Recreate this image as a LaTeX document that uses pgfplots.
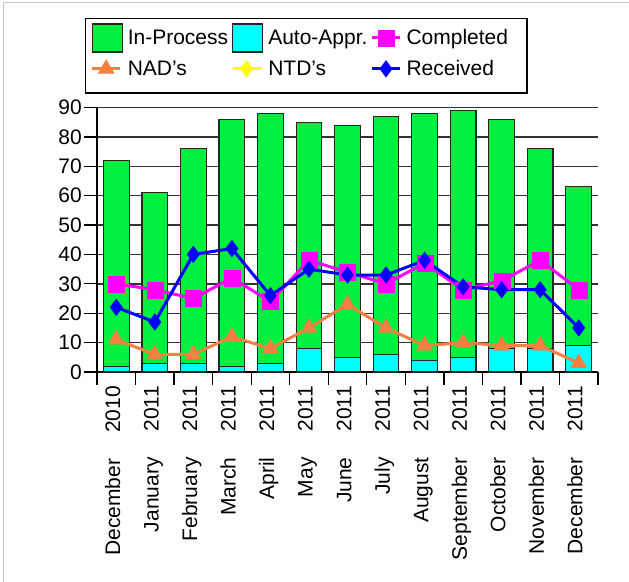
\documentclass[border=0pt]{standalone}
\usepackage{fontspec}
\setmainfont{Liberation Sans}
\usepackage{pgfplots}
\usepackage{pgfplotstable}
\pgfplotsset{compat=1.18}
\definecolor{cgreen}{RGB}{0,240,64}
\definecolor{ccyan}{RGB}{0,255,255}
\definecolor{cmag}{RGB}{255,0,255}
\definecolor{corange}{RGB}{245,128,66}
\definecolor{cblue}{RGB}{0,0,255}
\definecolor{cyellow}{RGB}{255,255,0}
\newcommand{\cf}{\fontsize{21bp}{25bp}\selectfont}
\newcommand{\lab}[2]{\makebox[105bp][r]{#1}\hspace{26bp}#2}
\pgfplotstableread{
i inproc auto completed nad received
0  70 2 30 11 22
1  58 3 28  6 17
2  73 3 25  6 40
3  84 2 32 12 42
4  85 3 24  8 26
5  77 8 38 15 35
6  79 5 34 23 33
7  81 6 30 15 33
8  84 4 37  9 38
9  84 5 28 10 29
10 78 8 31  9 28
11 68 8 38  9 28
12 54 9 28  3 15
}\datatable
\pgfplotsset{
  lineleg/.style={legend image code/.code={\draw[mark repeat=2,mark phase=2,##1] plot coordinates {(0bp,0bp) (14bp,0bp) (28bp,0bp)};}},
  lineleglow/.style={legend image code/.code={\path[draw=none,fill=none] (0bp,-19bp);\draw[mark repeat=2,mark phase=2,##1] plot coordinates {(0bp,0bp) (14bp,0bp) (28bp,0bp)};}},
  boxleg/.style={legend image code/.code={\draw[##1, line width=1.3bp] (0bp,-14bp) rectangle (30bp,14bp);}},
}
\begin{document}
\begin{tikzpicture}
\path[use as bounding box] (0,0) rectangle (629bp,582bp);
\draw[black!22, line width=1.5bp] (3.5bp,0bp) -- (3.5bp,579.5bp) -- (629bp,579.5bp);
\begin{axis}[
  at={(97bp,210bp)}, anchor=south west,
  scale only axis, width=501bp, height=264.5bp,
  xmin=-0.5, xmax=12.5, ymin=0, ymax=90,
  clip=false,
  axis x line*=bottom, axis y line*=left,
  axis line style={black, line width=1.3bp},
  ytick={0,10,...,90},
  ymajorgrids,
  major grid style={draw=black!80, line width=1.4bp},
  xtick={-0.5,0.5,...,12.5},
  x tick label as interval,
  xticklabels={\lab{December}{2010},\lab{January}{2011},\lab{February}{2011},\lab{March}{2011},\lab{April}{2011},\lab{May}{2011},\lab{June}{2011},\lab{July}{2011},\lab{August}{2011},\lab{September}{2011},\lab{October}{2011},\lab{November}{2011},\lab{December}{2011}},
  tick align=outside,
  major tick length=13bp,
  tick style={black, line width=1.3bp},
  /pgf/number format/assume math mode=true,
  yticklabel style={font=\cf, inner xsep=2bp},
  xticklabel style={font=\cf, rotate=90, anchor=east, text height=15bp, text depth=7.5bp, inner sep=1bp},
  legend columns=3,
  legend cell align=left,
  legend style={font=\cf, draw=black, line width=1.3bp, at={(0,1)}, anchor=south west, xshift=-12bp, yshift=14bp, inner xsep=5bp, inner ysep=5bp,
    /tikz/every even column/.append style={column sep=1bp},
    /tikz/every odd column/.append style={column sep=3bp},
    row sep=6bp},
]
\addplot[ybar, bar width=25.7bp, bar shift=0pt, fill=cgreen, draw=black!85, line width=1.1bp, boxleg]
  table[x=i, y expr=\thisrow{inproc}+\thisrow{auto}] {\datatable};
\addlegendentry{In-Process}
\addplot[ybar, bar width=25.7bp, bar shift=0pt, fill=ccyan, draw=black!85, line width=1.1bp, forget plot]
  table[x=i, y=auto] {\datatable};
\addlegendimage{fill=ccyan, draw=black!85, boxleg}
\addlegendentry{Auto-Appr.}
\addplot[color=cmag, line width=3bp, mark=square*, mark size=8bp, mark options={fill=cmag, draw=cmag, line width=0.1bp}, lineleg]
  table[x=i, y=completed] {\datatable};
\addlegendentry{Completed\hspace*{12bp}}
\addplot[color=corange, line width=3bp, mark=triangle*, mark size=9.5bp, mark options={fill=corange, draw=corange, line width=0.1bp}, lineleglow]
  table[x=i, y=nad] {\datatable};
\addlegendentry{NAD's}
\addlegendimage{color=cyellow, line width=3bp, mark=diamond*, mark size=8.5bp, mark options={fill=cyellow, draw=cyellow, line width=0.1bp}, lineleglow}
\addlegendentry{NTD's}
\addplot[color=cblue, line width=3bp, mark=diamond*, mark size=8.5bp, mark options={fill=cblue, draw=cblue, line width=0.1bp}, lineleglow]
  table[x=i, y=received] {\datatable};
\addlegendentry{Received}
\end{axis}
\end{tikzpicture}
\end{document}
